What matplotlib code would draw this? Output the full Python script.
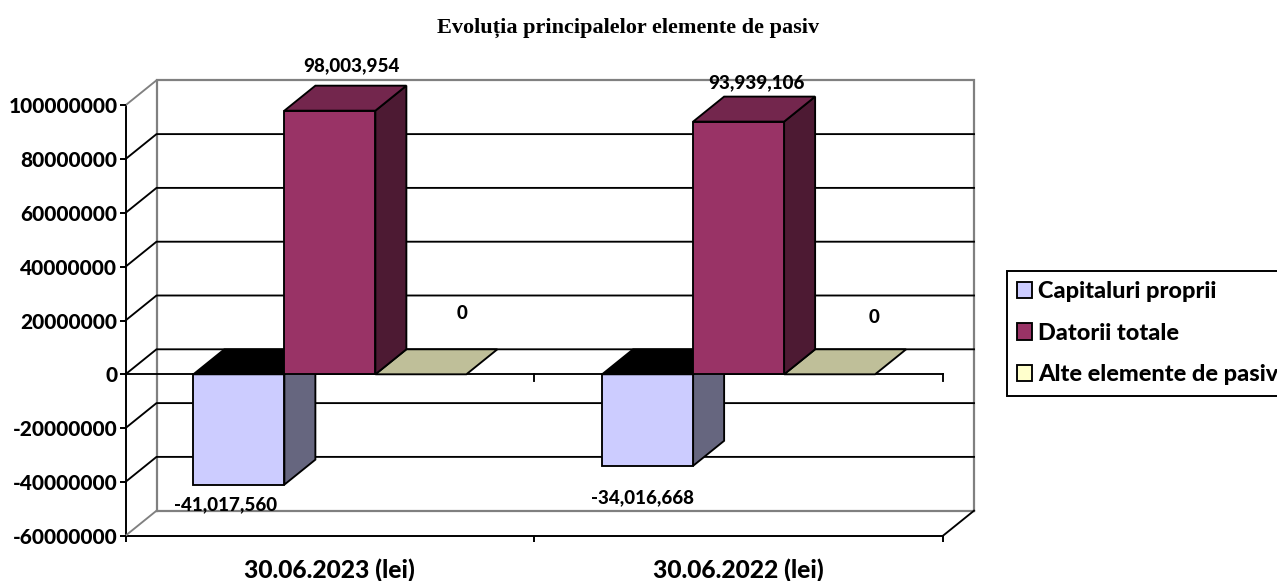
import matplotlib
matplotlib.use("Agg")
import matplotlib.pyplot as plt
from matplotlib.patches import Polygon, Patch

categories = ["30.06.2023 (lei)", "30.06.2022 (lei)"]
series_names = ["Capitaluri proprii", "Datorii totale", "Alte elemente de pasiv"]
capitaluri = [-41017560, -34016668]
datorii = [98003954, 93939106]
alte = [0, 0]
y_ticks = [-60000000, -40000000, -20000000, 0, 20000000, 40000000, 60000000, 80000000, 100000000]

W, H = 1277, 581
fig = plt.figure(figsize=(W / 100, H / 100), dpi=100, facecolor="white")
L, R, T, B = 125.5, 943, 105.3, 535.7
ax = fig.add_axes([L / W, 1 - B / H, (R - L) / W, (B - T) / H])
ax.set_xlim(0, 2)
ax.set_ylim(-60000000, 100000000)
ax.patch.set_visible(False)
for s in ("top", "right"):
    ax.spines[s].set_visible(False)
for s in ("left", "bottom"):
    ax.spines[s].set_linewidth(1.4)
    ax.spines[s].set_zorder(1)

px_x = 2 / (R - L)
px_y = 160000000 / (B - T)
DX, DY = 31 * px_x, 25 * px_y
BW = 91 * px_x
LW = 1.35
GRAY = "#808080"

# walls and gridlines
ymin, ymax = y_ticks[0], y_ticks[-1]
ax.plot([DX, DX, 2 + DX, 2 + DX], [ymin + DY, ymax + DY, ymax + DY, ymin + DY],
        color=GRAY, lw=1.6, clip_on=False, zorder=1.5, solid_joinstyle="miter")
ax.plot([DX, 2 + DX], [ymin + DY, ymin + DY], color=GRAY, lw=1.6, clip_on=False, zorder=1.5)
ax.plot([0, DX], [ymax, ymax + DY], color=GRAY, lw=LW, clip_on=False, zorder=1.5)
ax.plot([0, DX], [ymin, ymin + DY], color=GRAY, lw=LW, clip_on=False, zorder=1.5)
ax.plot([2, 2 + DX], [ymin, ymin + DY], color="black", lw=LW, clip_on=False, zorder=1.5)
for v in y_ticks[1:-1]:
    ax.plot([0, DX, 2 + DX], [v, v + DY, v + DY], color="black", lw=LW, clip_on=False, zorder=1.6)


def bar3d(x0, v, front, side, top, zo):
    x1 = x0 + BW
    kw = dict(edgecolor="black", lw=LW, clip_on=False, zorder=zo, joinstyle="miter")
    if v != 0:
        ax.add_patch(Polygon([(x1, 0), (x1 + DX, DY), (x1 + DX, v + DY), (x1, v)], facecolor=side, **kw))
        ax.add_patch(Polygon([(x0, 0), (x1, 0), (x1, v), (x0, v)], facecolor=front, **kw))
    yt = max(v, 0)
    ax.add_patch(Polygon([(x0, yt), (x1, yt), (x1 + DX, yt + DY), (x0 + DX, yt + DY)], facecolor=top, **kw))


styles = [("#CCCCFF", "#66667F", "#000000"),
          ("#993366", "#4D1A33", "#73264D"),
          ("#FFFFCC", "#7F7F66", "#BFBF99")]
values = [capitaluri, datorii, alte]
for c in range(2):
    x_start = c + 0.5 - 1.5 * BW
    for s in (0, 2, 1):
        bar3d(x_start + s * BW, values[s][c], *styles[s], 3 + (s == 1) * 0.5)

# zero axis with ticks
ax.plot([0, 2], [0, 0], color="black", lw=LW, clip_on=False, zorder=2.5)
for x in (1, 2):
    ax.plot([x, x], [0, -7 * px_y], color="black", lw=LW, clip_on=False, zorder=2.5)

# ticks and labels
lab = dict(family="Lato", fontweight=900, color="black")
ax.set_yticks(y_ticks)
ax.set_yticklabels([str(v) for v in y_ticks], fontsize=15, **lab)
ax.tick_params(axis="y", length=4.3, width=1.4, pad=1.5)
ax.set_xticks([0, 1, 2])
ax.set_xticklabels(["", "", ""])
ax.tick_params(axis="x", length=4.3, width=1.4)
ax.set_xticks([0.5, 1.5], minor=True)
ax.set_xticklabels(categories, minor=True, fontsize=17.7, **lab)
ax.tick_params(axis="x", which="minor", length=0, pad=16)

# data labels
def label(text, cat, s, v, ox, oy):
    x = cat + 0.5 - 1.5 * BW + (s + 0.5) * BW
    ax.annotate(text, xy=(x, v), xytext=(ox, oy), textcoords="offset pixels", ha="center", va="center",
                fontsize=13.5, zorder=6, annotation_clip=False, **lab)


label(f"{capitaluri[0]:,}", 0, 0, capitaluri[0], -13, -20)
label(f"{capitaluri[1]:,}", 1, 0, capitaluri[1], -5, -32)
label(f"{datorii[0]:,}", 0, 1, datorii[0], 22, 45)
label(f"{datorii[1]:,}", 1, 1, datorii[1], 18, 39)
label(f"{alte[0]:,}", 0, 2, alte[0], 41, 61)
label(f"{alte[1]:,}", 1, 2, alte[1], 44, 57)

# title
fig.text(628 / W, 1 - 28 / H, "Evoluția principalelor elemente de pasiv", ha="center", va="center",
         family="Liberation Serif", fontweight="bold", fontsize=16)

# legend
handles = [Patch(facecolor=st[0], edgecolor="black", lw=LW) for st in styles]
leg = fig.legend(handles, series_names, loc="upper left", bbox_to_anchor=(1006.5 / W, 1 - 270.5 / H),
                 borderaxespad=0, frameon=True, fancybox=False, edgecolor="black", framealpha=1,
                 prop=dict(family="Lato", weight=900, size=16.9), labelspacing=0.88,
                 handlelength=0.64, handleheight=0.68, handletextpad=0.25, borderpad=0.45)
leg.get_frame().set_linewidth(1.4)

fig.savefig("out.png", dpi=100)
